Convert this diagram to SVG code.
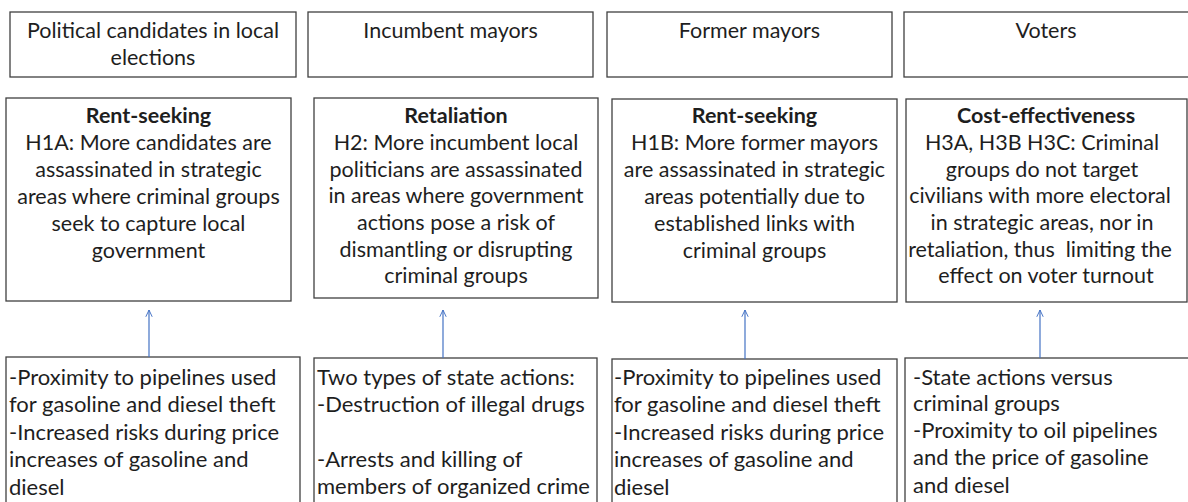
<svg xmlns="http://www.w3.org/2000/svg" width="1188" height="502" viewBox="0 0 1188 502">
<style>
.box{fill:#fff;stroke:#404040;stroke-width:1.3}
.t{font-family:Lato,"Liberation Sans",sans-serif;font-size:21.5px;fill:#1e1e1e}
.s{font-size:22px}
.c{text-anchor:middle}
.b{font-weight:bold}
.conn{stroke:#4472C4;stroke-width:1.2;fill:none}
</style>
<defs>
<marker id="arr" markerUnits="userSpaceOnUse" viewBox="0 0 10 10" refX="9.5" refY="5" markerWidth="8" markerHeight="9" orient="auto">
<path d="M1,1 L9.5,5 L1,9" fill="none" stroke="#4472C4" stroke-width="1.2"/>
</marker>
</defs>
<rect width="1188" height="502" fill="#fff"/>

<g id="top1"><rect class="box" x="10" y="12" width="286" height="65"/>
<text class="t c" x="153" y="38">Political candidates in local</text>
<text class="t c" x="153" y="65">elections</text></g>
<g id="top2"><rect class="box" x="308" y="12" width="285" height="65"/>
<text class="t c" x="450.5" y="38">Incumbent mayors</text></g>
<g id="top3"><rect class="box" x="607" y="12" width="285" height="65"/>
<text class="t c" x="749.5" y="38">Former mayors</text></g>
<g id="top4"><rect class="box" x="904" y="12" width="290" height="65"/>
<text class="t c" x="1046" y="38">Voters</text></g>

<g id="mid1"><rect class="box" x="6" y="98" width="285" height="203"/>
<text class="t c b" x="148.5" y="123">Rent-seeking</text>
<text class="t c" x="148.5" y="150">H1A: More candidates are</text>
<text class="t c" x="148.5" y="177">assassinated in strategic</text>
<text class="t c" x="148.5" y="204">areas where criminal groups</text>
<text class="t c" x="148.5" y="231">seek to capture local</text>
<text class="t c" x="148.5" y="258">government</text></g>

<g id="mid2"><rect class="box" x="314" y="98" width="284" height="200"/>
<text class="t c b" x="456" y="123">Retaliation</text>
<text class="t c" x="456" y="150">H2: More incumbent local</text>
<text class="t c" x="456" y="177">politicians are assassinated</text>
<text class="t c" x="456" y="203">in areas where government</text>
<text class="t c" x="456" y="230">actions pose a risk of</text>
<text class="t c" x="456" y="257">dismantling or disrupting</text>
<text class="t c" x="456" y="283">criminal groups</text></g>

<g id="mid3"><rect class="box" x="612" y="99" width="285" height="203"/>
<text class="t c b" x="754.5" y="123">Rent-seeking</text>
<text class="t c" x="754.5" y="150">H1B: More former mayors</text>
<text class="t c" x="754.5" y="177">are assassinated in strategic</text>
<text class="t c" x="754.5" y="204">areas potentially due to</text>
<text class="t c" x="754.5" y="231">established links with</text>
<text class="t c" x="754.5" y="258">criminal groups</text></g>

<g id="mid4"><rect class="box" x="906" y="99" width="281" height="203"/>
<text class="t c b" x="1046" y="123">Cost-effectiveness</text>
<text class="t c" x="1042" y="150">H3A, H3B H3C: Criminal</text>
<text class="t c" x="1042" y="177">groups do not target</text>
<text class="t c" x="1040" y="203">civilians with more electoral</text>
<text class="t c" x="1042" y="230">in strategic areas, nor in</text>
<text class="t c" x="1040" y="257" style="white-space:pre">retaliation, thus  limiting the</text>
<text class="t c" x="1046" y="283">effect on voter turnout</text></g>

<g id="bot1"><rect class="box" x="6" y="357" width="294" height="200"/>
<text class="t s" x="9" y="385">-Proximity to pipelines used</text>
<text class="t s" x="9" y="412">for gasoline and diesel theft</text>
<text class="t s" x="9" y="440">-Increased risks during price</text>
<text class="t s" x="9" y="467">increases of gasoline and</text>
<text class="t s" x="9" y="495">diesel</text></g>

<g id="bot2"><rect class="box" x="314" y="358" width="283" height="200"/>
<text class="t s" x="317" y="385">Two types of state actions:</text>
<text class="t s" x="317" y="412">-Destruction of illegal drugs</text>
<text class="t s" x="317" y="467">-Arrests and killing of</text>
<text class="t s" x="317" y="494">members of organized crime</text></g>

<g id="bot3"><rect class="box" x="612" y="359" width="285" height="200"/>
<text class="t s" x="614" y="385">-Proximity to pipelines used</text>
<text class="t s" x="614" y="412">for gasoline and diesel theft</text>
<text class="t s" x="614" y="440">-Increased risks during price</text>
<text class="t s" x="614" y="467">increases of gasoline and</text>
<text class="t s" x="614" y="495">diesel</text></g>

<g id="bot4"><rect class="box" x="905" y="358" width="290" height="200"/>
<text class="t s" x="913" y="385">-State actions versus</text>
<text class="t s" x="913" y="411">criminal groups</text>
<text class="t s" x="913" y="438">-Proximity to oil pipelines</text>
<text class="t s" x="913" y="465">and the price of gasoline</text>
<text class="t s" x="913" y="493">and diesel</text></g>

<g id="connectors">
<line class="conn" x1="149" y1="357" x2="149" y2="310" marker-end="url(#arr)"/>
<line class="conn" x1="443" y1="358" x2="443" y2="310" marker-end="url(#arr)"/>
<line class="conn" x1="745" y1="359" x2="745" y2="310" marker-end="url(#arr)"/>
<line class="conn" x1="1040" y1="358" x2="1040" y2="310" marker-end="url(#arr)"/>
</g>
</svg>
